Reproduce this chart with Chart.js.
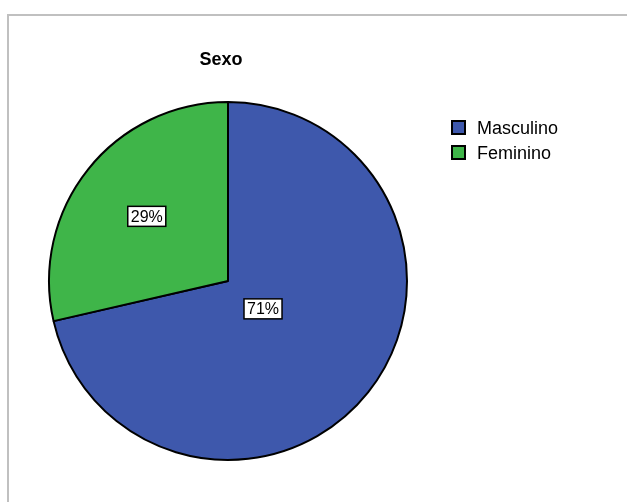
<!DOCTYPE html>
<html>
<head>
<meta charset="utf-8">
<script src="https://cdn.jsdelivr.net/npm/chart.js@4/dist/chart.umd.min.js"></script>
<style>
  html, body { margin: 0; padding: 0; background: #fff; overflow: hidden; }
  #wrap { position: relative; width: 627px; height: 502px; }
  #frame { position: absolute; left: 7px; top: 14px; width: 640px; height: 520px;
           border-left: 2px solid #c0c0c0; border-top: 2px solid #c0c0c0; }
  canvas { position: absolute; left: 0; top: 0; }
</style>
</head>
<body>
<div id="wrap">
  <div id="frame"></div>
  <canvas id="pie" width="627" height="502"></canvas>
</div>
<script>
const title = "Sexo";
const categories = ["Masculino", "Feminino"];
const percents = [71.4, 28.6];
const colors = ["#3e58ac", "#3fb549"];

// boxed percentage labels inside the slices
const sliceLabels = {
  id: "sliceLabels",
  afterDatasetsDraw(chart, args, opts) {
    const ctx = chart.ctx;
    const meta = chart.getDatasetMeta(0);
    ctx.save();
    ctx.font = "16px Arial, 'Liberation Sans', sans-serif";
    ctx.textAlign = "center";
    ctx.textBaseline = "middle";
    meta.data.forEach((arc, i) => {
      const mid = (arc.startAngle + arc.endAngle) / 2;
      const r = arc.outerRadius * opts.radial[i];
      const x = arc.x + Math.cos(mid) * r;
      const y = arc.y + Math.sin(mid) * r;
      const txt = Math.round(percents[i]) + "%";
      const w = ctx.measureText(txt).width + 6;
      const h = 20;
      ctx.fillStyle = "#fff";
      ctx.fillRect(x - w / 2, y - h / 2, w, h);
      ctx.strokeStyle = "#000";
      ctx.lineWidth = 1.5;
      ctx.strokeRect(x - w / 2, y - h / 2, w, h);
      ctx.fillStyle = "#000";
      ctx.fillText(txt, x, y + 1);
    });
    ctx.restore();
  }
};

// title and legend drawn in the fixed SPSS-style places
const decor = {
  id: "decor",
  afterDraw(chart) {
    const ctx = chart.ctx;
    ctx.save();
    ctx.fillStyle = "#000";
    ctx.font = "bold 18px Arial, 'Liberation Sans', sans-serif";
    ctx.textAlign = "center";
    ctx.textBaseline = "alphabetic";
    ctx.fillText(title, 221, 65);

    ctx.font = "18px Arial, 'Liberation Sans', sans-serif";
    ctx.textAlign = "left";
    categories.forEach((c, i) => {
      const y = 121 + i * 25;
      ctx.fillStyle = colors[i];
      ctx.fillRect(452, y, 13, 13);
      ctx.strokeStyle = "#000";
      ctx.lineWidth = 2;
      ctx.strokeRect(452, y, 13, 13);
      ctx.fillStyle = "#000";
      ctx.fillText(c, 477, y + 13);
    });
    ctx.restore();
  }
};

new Chart(document.getElementById("pie"), {
  type: "pie",
  data: {
    labels: categories,
    datasets: [{
      data: percents,
      backgroundColor: colors,
      borderColor: "#000",
      borderWidth: 2,
      hoverOffset: 0,
      borderAlign: "center"
    }]
  },
  options: {
    responsive: false,
    animation: false,
    layout: { padding: { left: 48, right: 219, top: 101, bottom: 41 } },
    plugins: {
      legend: { display: false },
      tooltip: { enabled: false },
      title: { display: false },
      sliceLabels: { radial: [0.25, 0.58] }
    }
  },
  plugins: [sliceLabels, decor]
});
</script>
</body>
</html>
